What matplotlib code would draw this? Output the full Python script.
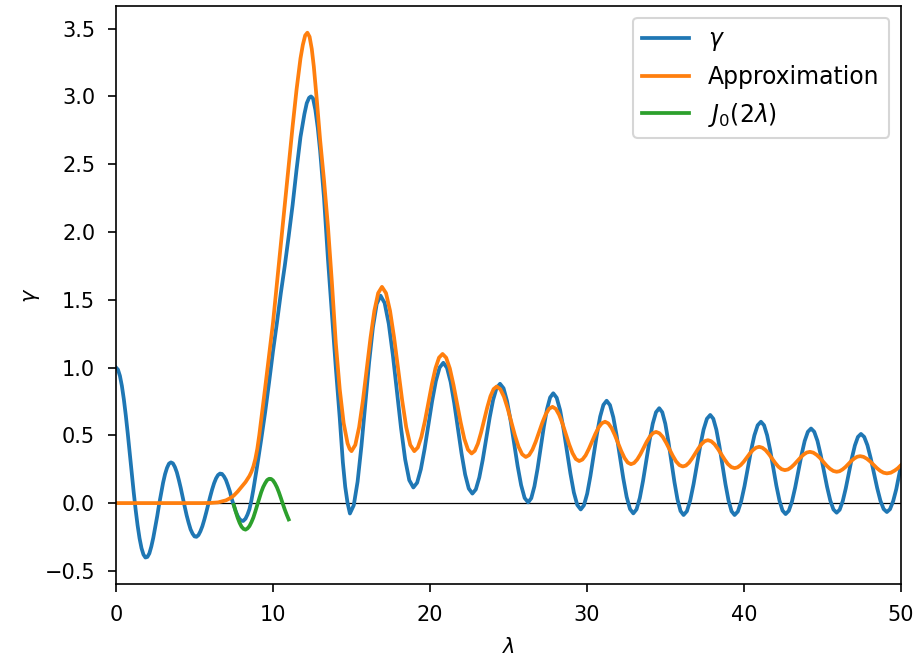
import matplotlib
matplotlib.use("Agg")
import matplotlib.pyplot as plt

# gamma (blue)
lam_gamma = [0, 0.125, 0.25, 0.375, 0.5, 0.625, 0.75, 0.875, 1.0, 1.125, 1.25,
             1.375, 1.5, 1.625, 1.75, 1.875, 2.0, 2.125, 2.25, 2.375, 2.5,
             2.625, 2.75, 2.875, 3.0, 3.125, 3.25, 3.375, 3.5, 3.625, 3.75,
             3.875, 4.0, 4.125, 4.25, 4.375, 4.5, 4.625, 4.75, 4.875, 5.0,
             5.125, 5.25, 5.375, 5.5, 5.625, 5.75, 5.875, 6.0, 6.125, 6.25,
             6.375, 6.5, 6.625, 6.75, 6.875, 7.0, 7.125, 7.25,
             7.375, 7.5, 7.625, 7.75, 7.875, 8.0, 8.1, 8.25, 8.375, 8.5, 8.625,
             8.75, 9.0, 9.25, 9.5, 9.75, 10.0, 10.25, 10.5, 10.75, 11.0, 11.25,
             11.5, 11.75, 12.0, 12.15, 12.3, 12.42, 12.55, 12.7, 12.85, 13.0,
             13.25, 13.5, 13.75, 14.0, 14.25, 14.45, 14.6, 14.75, 14.9,
             15.144, 15.388, 15.631, 15.875, 16.119, 16.363, 16.606, 16.85,
             17.111, 17.373, 17.634, 17.895, 18.156, 18.418, 18.679, 18.94,
             19.179, 19.418, 19.656, 19.895, 20.134, 20.373, 20.611, 20.85,
             21.081, 21.313, 21.544, 21.775, 22.006, 22.238, 22.469, 22.7,
             22.92, 23.14, 23.36, 23.58, 23.8, 24.02, 24.24, 24.46,
             24.684, 24.908, 25.131, 25.355, 25.579, 25.803, 26.026, 26.25,
             26.45, 26.65, 26.85, 27.05, 27.25, 27.45, 27.65, 27.85,
             28.069, 28.288, 28.506, 28.725, 28.944, 29.163, 29.381, 29.6,
             29.806, 30.013, 30.219, 30.425, 30.631, 30.838, 31.044, 31.25,
             31.463, 31.675, 31.888, 32.1, 32.313, 32.525, 32.738, 32.95,
             33.156, 33.363, 33.569, 33.775, 33.981, 34.188, 34.394, 34.6,
             34.794, 34.988, 35.181, 35.375, 35.569, 35.763, 35.956, 36.15,
             36.363, 36.575, 36.788, 37.0, 37.213, 37.425, 37.638, 37.85,
             38.044, 38.238, 38.431, 38.625, 38.819, 39.013, 39.206, 39.4,
             39.61, 39.82, 40.03, 40.24, 40.45, 40.66, 40.87, 41.08,
             41.276, 41.473, 41.669, 41.865, 42.061, 42.258, 42.454, 42.65,
             42.853, 43.055, 43.258, 43.46, 43.663, 43.865, 44.068, 44.27,
             44.474, 44.678, 44.881, 45.085, 45.289, 45.493, 45.696, 45.9,
             46.094, 46.288, 46.481, 46.675, 46.869, 47.063, 47.256, 47.45,
             47.656, 47.863, 48.069, 48.275, 48.481, 48.688, 48.894, 49.1,
             49.3, 49.5, 49.7, 49.9, 50.0]
gamma_vals = [1.0, 0.9844, 0.9385, 0.8642, 0.7652, 0.6459, 0.5118, 0.3690,
              0.2239, 0.0827, -0.0484, -0.1641, -0.2601, -0.3327, -0.3801,
              -0.4018, -0.3971, -0.3714, -0.3205, -0.2559, -0.1776, -0.0968,
              -0.0068, 0.0729, 0.1506, 0.2136, 0.2601, 0.2911, 0.3001, 0.2930,
              0.2663, 0.2268, 0.1717, 0.1107, 0.0419, -0.0256, -0.0903, -0.1452,
              -0.1939, -0.2252, -0.2459, -0.2490, -0.2366, -0.2086, -0.1712,
              -0.1224, -0.0677, -0.0095, 0.0477, 0.1010, 0.1469, 0.1828, 0.2069,
              0.2176, 0.2150, 0.1971, 0.1711, 0.1310, 0.0875,
              0.030, -0.015, -0.060, -0.095, -0.119, -0.130, -0.132, -0.115,
              -0.085, -0.045, 0.020, 0.10, 0.28, 0.47, 0.67, 0.89, 1.12, 1.33,
              1.55, 1.75, 1.97, 2.20, 2.46, 2.70, 2.87, 2.95, 2.99, 3.0, 2.985,
              2.90, 2.77, 2.60, 2.25, 1.80, 1.40, 1.00, 0.63, 0.30, 0.12, 0.0,
              -0.077,
              -0.016, 0.158, 0.419, 0.727, 1.034, 1.295, 1.469, 1.53,
              1.476, 1.323, 1.093, 0.823, 0.552, 0.322, 0.169, 0.115,
              0.150, 0.250, 0.399, 0.575, 0.751, 0.900, 1.000, 1.035,
              0.998, 0.894, 0.737, 0.5525, 0.368, 0.211, 0.107, 0.07,
              0.101, 0.189, 0.320, 0.475, 0.630, 0.761, 0.849, 0.88,
              0.847, 0.752, 0.610, 0.4425, 0.275, 0.133, 0.038, 0.005,
              0.036, 0.123, 0.253, 0.4075, 0.562, 0.692, 0.779, 0.81,
              0.777, 0.685, 0.545, 0.3815, 0.218, 0.078, -0.014, -0.047,
              -0.016, 0.070, 0.201, 0.354, 0.507, 0.638, 0.724, 0.755,
              0.723, 0.633, 0.498, 0.3395, 0.181, 0.046, -0.044, -0.076,
              -0.046, 0.038, 0.164, 0.312, 0.460, 0.586, 0.670, 0.70,
              0.670, 0.585, 0.457, 0.306, 0.155, 0.027, -0.058, -0.088,
              -0.060, 0.020, 0.140, 0.281, 0.422, 0.542, 0.622, 0.65,
              0.622, 0.542, 0.422, 0.281, 0.140, 0.020, -0.060, -0.088,
              -0.062, 0.013, 0.124, 0.256, 0.388, 0.499, 0.574, 0.60,
              0.574, 0.500, 0.390, 0.2595, 0.129, 0.019, -0.055, -0.081,
              -0.057, 0.011, 0.114, 0.2345, 0.355, 0.458, 0.526, 0.55,
              0.526, 0.459, 0.358, 0.2395, 0.121, 0.020, -0.047, -0.071,
              -0.049, 0.014, 0.108, 0.2195, 0.331, 0.425, 0.488, 0.51,
              0.488, 0.426, 0.332, 0.222, 0.112, 0.018, -0.044, -0.066,
              -0.045, 0.014, 0.103, 0.22, 0.27]

# Approximation (orange)
lam_approx = [0, 2, 4, 5.5, 6.0, 6.5, 7.0, 7.25, 7.5, 7.75, 8.0, 8.25, 8.5,
              8.625, 8.75, 8.875, 9.0, 9.125, 9.25, 9.5, 9.75, 10.0, 10.25,
              10.5, 10.75, 11.0, 11.25, 11.5, 11.75, 11.9, 12.05, 12.19, 12.33,
              12.47, 12.6, 12.8, 13.0, 13.25, 13.5, 13.75, 14.0, 14.25, 14.5,
              14.75, 14.88, 15.0,
              15.243, 15.485, 15.728, 15.97, 16.213, 16.455, 16.698, 16.94,
              17.198, 17.455, 17.713, 17.97, 18.228, 18.485, 18.743, 19.0,
              19.225, 19.45, 19.675, 19.9, 20.125, 20.35, 20.575, 20.8,
              21.031, 21.263, 21.494, 21.725, 21.956, 22.188, 22.419, 22.65,
              22.85, 23.05, 23.25, 23.45, 23.65, 23.85, 24.05, 24.25,
              24.481, 24.713, 24.944, 25.175, 25.406, 25.638, 25.869, 26.1,
              26.313, 26.525, 26.738, 26.95, 27.163, 27.375, 27.588, 27.8,
              28.013, 28.225, 28.438, 28.65, 28.863, 29.075, 29.288, 29.5,
              29.706, 29.913, 30.119, 30.325, 30.531, 30.738, 30.944, 31.15,
              31.356, 31.563, 31.769, 31.975, 32.181, 32.388, 32.594, 32.8,
              33.0, 33.2, 33.4, 33.6, 33.8, 34.0, 34.2, 34.4,
              34.613, 34.825, 35.038, 35.25, 35.463, 35.675, 35.888, 36.1,
              36.3, 36.5, 36.7, 36.9, 37.1, 37.3, 37.5, 37.7,
              37.913, 38.125, 38.338, 38.55, 38.763, 38.975, 39.188, 39.4,
              39.596, 39.793, 39.989, 40.185, 40.381, 40.578, 40.774, 40.97,
              41.174, 41.378, 41.581, 41.785, 41.989, 42.193, 42.396, 42.6,
              42.8, 43.0, 43.2, 43.4, 43.6, 43.8, 44.0, 44.2,
              44.413, 44.625, 44.838, 45.05, 45.263, 45.475, 45.688, 45.9,
              46.088, 46.275, 46.463, 46.65, 46.838, 47.025, 47.213, 47.4,
              47.613, 47.825, 48.038, 48.25, 48.463, 48.675, 48.888, 49.1,
              49.35, 49.6, 49.8, 50.0]
approx_vals = [0, 0, 0, 0.0, 0.001, 0.005, 0.02, 0.035, 0.055, 0.085, 0.12,
               0.155, 0.20, 0.23, 0.27, 0.325, 0.40, 0.50, 0.615, 0.85, 1.09,
               1.33, 1.62, 1.91, 2.20, 2.49, 2.78, 3.05, 3.28, 3.38, 3.45, 3.47,
               3.44, 3.35, 3.22, 2.96, 2.68, 2.38, 2.04, 1.63, 1.18, 0.84, 0.59,
               0.44, 0.40, 0.383,
               0.429, 0.560, 0.757, 0.989, 1.221, 1.418, 1.549, 1.595,
               1.549, 1.418, 1.221, 0.989, 0.757, 0.560, 0.429, 0.383,
               0.410, 0.488, 0.604, 0.7415, 0.879, 0.995, 1.073, 1.10,
               1.072, 0.993, 0.873, 0.733, 0.593, 0.473, 0.394, 0.366,
               0.385, 0.438, 0.519, 0.613, 0.707, 0.788, 0.841, 0.86,
               0.840, 0.784, 0.699, 0.60, 0.501, 0.416, 0.360, 0.34,
               0.354, 0.394, 0.454, 0.525, 0.596, 0.656, 0.696, 0.71,
               0.695, 0.651, 0.587, 0.51, 0.433, 0.369, 0.325, 0.31,
               0.321, 0.352, 0.400, 0.455, 0.510, 0.558, 0.589, 0.60,
               0.588, 0.554, 0.503, 0.4435, 0.384, 0.333, 0.299, 0.287,
               0.296, 0.322, 0.360, 0.406, 0.452, 0.490, 0.516, 0.525,
               0.515, 0.488, 0.446, 0.3975, 0.349, 0.307, 0.280, 0.27,
               0.277, 0.298, 0.330, 0.367, 0.404, 0.436, 0.457, 0.464,
               0.456, 0.434, 0.400, 0.361, 0.322, 0.288, 0.266, 0.258,
               0.264, 0.281, 0.306, 0.3365, 0.367, 0.392, 0.409, 0.415,
               0.408, 0.390, 0.362, 0.329, 0.296, 0.268, 0.250, 0.243,
               0.248, 0.263, 0.285, 0.3105, 0.336, 0.358, 0.373, 0.378,
               0.372, 0.356, 0.333, 0.3045, 0.276, 0.253, 0.237, 0.231,
               0.235, 0.248, 0.266, 0.2885, 0.311, 0.329, 0.342, 0.346,
               0.341, 0.327, 0.307, 0.2825, 0.258, 0.238, 0.224, 0.219,
               0.224, 0.240, 0.257, 0.28]

# J0(2 lambda) (green)
lam_j0 = [7.5, 7.625, 7.75, 7.875, 8.0, 8.125, 8.25, 8.375, 8.5, 8.625, 8.75,
          8.875, 9.0, 9.125, 9.25, 9.375, 9.5, 9.625, 9.75, 9.875, 10.0,
          10.125, 10.25, 10.375, 10.5, 10.625, 10.75, 10.875, 11.0]
j0_vals = [-0.0142, -0.0632, -0.1092, -0.1465, -0.1749, -0.1905, -0.1960,
           -0.1872, -0.1699, -0.1411, -0.1065, -0.0617, -0.0134, 0.0340,
           0.0806, 0.1185, 0.1466, 0.1694, 0.1790, 0.1783, 0.1670, 0.1449,
           0.1164, 0.0797, 0.0380, -0.0056, -0.0480, -0.0860, -0.1207]

fig = plt.figure(figsize=(915 / 150, 657 / 150), dpi=150)
ax = fig.add_axes([116 / 915, 73 / 657, 785 / 915, 578 / 657])

ax.axhline(0, color="k", linewidth=0.6)
ax.plot(lam_gamma, gamma_vals, label=r"$\gamma$", linewidth=1.8)
ax.plot(lam_approx, approx_vals, label="Approximation", linewidth=1.8)
ax.plot(lam_j0, j0_vals, label=r"$J_0(2\lambda)$", linewidth=1.8)

ax.set_xlim(0, 50)
ax.set_ylim(-0.597, 3.667)
ax.tick_params(axis="both", which="major", length=4, pad=6)
ax.set_xlabel(r"$\lambda$", labelpad=6)
ax.set_ylabel(r"$\gamma$", labelpad=1)
ax.legend(loc="upper right", fontsize=11.3)

fig.savefig("out.png", dpi=150)
